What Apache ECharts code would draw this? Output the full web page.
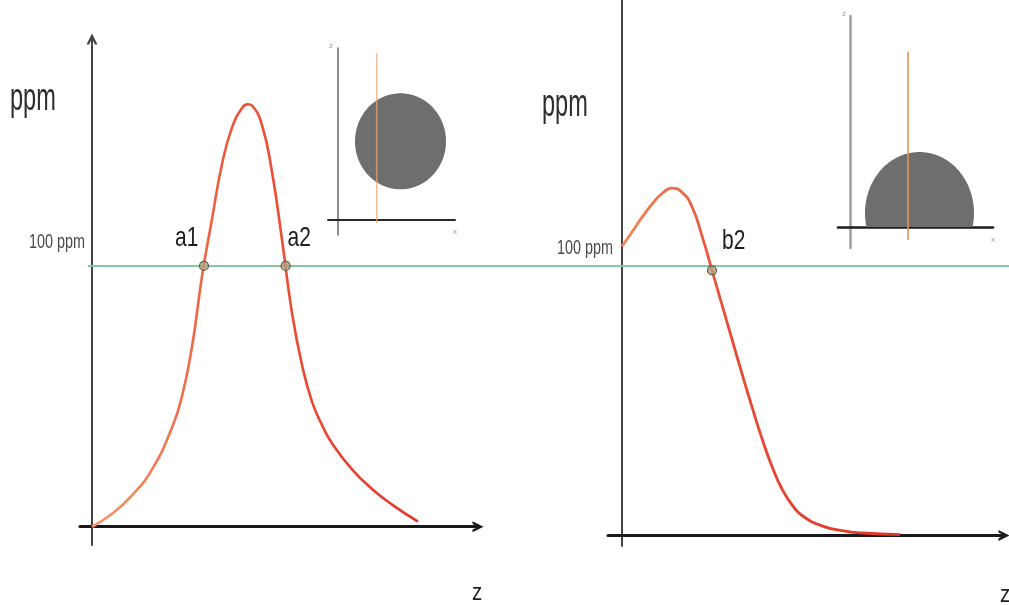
<!DOCTYPE html>
<html>
<head>
<meta charset="utf-8">
<script src="https://cdn.jsdelivr.net/npm/echarts@6/dist/echarts.min.js"></script>
<style>
  html, body { margin: 0; padding: 0; background: #fff; }
  #chart { width: 1009px; height: 605px; }
</style>
</head>
<body>
<div id="chart"></div>
<script>
// Concentration profile along z for a spherical drop (left) and a sessile drop (right)
const sphereZ   = [0, 0.5, 1.0, 1.5, 2.0, 2.25, 2.5, 2.75, 3.0, 3.25, 3.5, 3.75, 3.9, 4.0, 4.25, 4.5, 4.75, 5.0, 5.25, 5.5, 5.75, 6.0, 6.5, 7.0, 7.5, 8.15];
const spherePpm = [0, 5, 12, 22, 38, 50, 69, 96, 118, 139, 153, 160.5, 162, 161.5, 154, 136, 110, 82, 62, 48, 39, 32, 22, 14.5, 8.5, 2];

const sessileZ   = [0, 0.25, 0.5, 0.75, 1.0, 1.25, 1.5, 1.75, 2.0, 2.25, 2.5, 2.75, 3.0, 3.25, 3.5, 3.75, 4.0, 4.25, 4.5, 5.0, 5.5, 6.0, 6.95];
const sessilePpm = [109, 114.5, 120, 125, 129, 131, 129.5, 124, 113, 100, 87, 74, 61, 48.5, 36.5, 26, 17.5, 11.5, 7.5, 3.6, 1.8, 0.9, 0.3];

// 100 ppm threshold and the points where each profile crosses it
const thresholdPpm = 100;
const thresholdSpan = [0, 1];
const sphereCrossings  = [[2.8, 100], [4.84, 100]];
const sphereLabels     = ['a1', 'a2'];
const sessileCrossings = [[2.25, 100]];
const sessileLabels    = ['b2'];

// Drop shapes in the small sketches: [centre x, centre z, radius x, radius z]
const sphereDrop  = [62.5, 78.7, 45.5, 48];
const sessileDrop = [69.5, 14, 54.5, 61];
// Vertical beam line through each sketch: [x, z] end points
const sphereBeam  = [[38.7, -3], [38.7, 166.7]];
const sessileBeam = [[58, -13], [58, 175]];

const chart = echarts.init(document.getElementById('chart'), null, { renderer: 'canvas' });

const FONT = '"Liberation Sans", Arial, sans-serif';
const chevron = 'path://M0,10 L5,0 L10,10 L7.6,10 L5,4.6 L2.4,10 Z';

function mainX(grid, min, max) {
  return {
    type: 'value', gridIndex: grid, min: min, max: max,
    axisLine: { show: true, symbol: ['none', chevron], symbolSize: [18, 11],
      lineStyle: { color: '#1a1a1a', width: 3 } },
    axisTick: { show: false }, axisLabel: { show: false }, splitLine: { show: false }
  };
}
function mainY(grid, min, max, arrow) {
  return {
    type: 'value', gridIndex: grid, min: min, max: max,
    axisLine: { show: true, symbol: ['none', arrow ? chevron : 'none'], symbolSize: [17, 11],
      lineStyle: { color: '#444', width: 2 } },
    axisTick: { show: false }, axisLabel: { show: false }, splitLine: { show: false }
  };
}
function plainAxis(grid, min, max, color, width) {
  return {
    type: 'value', gridIndex: grid, min: min, max: max,
    axisLine: { show: color !== null, lineStyle: { color: color || '#000', width: width || 1 } },
    axisTick: { show: false }, axisLabel: { show: false }, splitLine: { show: false }
  };
}

// Outline of an ellipse, flattened where it meets the substrate (z = floor when given)
function dropItem(floor) {
  return function (params, api) {
    const cx = api.value(0), cy = api.value(1), rx = api.value(2), ry = api.value(3);
    const pts = [];
    for (let i = 0; i <= 160; i++) {
      const t = (i / 160) * Math.PI * 2;
      let y = cy + ry * Math.sin(t);
      if (floor !== null && y < floor) y = floor;
      pts.push(api.coord([cx + rx * Math.cos(t), y]));
    }
    return { type: 'polygon', shape: { points: pts }, style: { fill: '#6e6e6e' } };
  };
}

// Crossing marker with its name written beside it
function crossingItem(labels, offsets) {
  return function (params, api) {
    const p = api.coord([api.value(0), api.value(1)]);
    const off = offsets[params.dataIndex];
    return {
      type: 'group',
      children: [
        { type: 'circle', shape: { cx: p[0], cy: p[1], r: 4.5 },
          style: { fill: 'rgba(176,160,128,0.8)', stroke: '#6a5a44', lineWidth: 1.2 } },
        { type: 'text', x: p[0] + off[0], y: p[1] + off[1], scaleX: 0.75,
          style: { text: labels[params.dataIndex], font: '28px ' + FONT, fill: '#1e1e1e',
                   align: 'left', verticalAlign: 'middle' } }
      ]
    };
  };
}

function label(text, x, y, size, sx, fill) {
  return { type: 'text', x: x, y: y, scaleX: sx, z: 20,
    style: { text: text, font: size + 'px ' + FONT, fill: fill, align: 'left', verticalAlign: 'middle' } };
}

const curveLeft = new echarts.graphic.LinearGradient(0, 0, 1, 0, [
  { offset: 0, color: '#f59a6a' }, { offset: 0.45, color: '#ee5236' }, { offset: 1, color: '#e2382a' }
]);
const curveRight = new echarts.graphic.LinearGradient(0, 0, 1, 0, [
  { offset: 0, color: '#f2875a' }, { offset: 0.4, color: '#ea4a34' }, { offset: 1, color: '#dd3428' }
]);

chart.setOption({
  backgroundColor: '#ffffff',
  animation: false,
  grid: [
    { left: 80, top: 39, width: 398, height: 506 },   // spherical drop profile
    { left: 608, top: -8, width: 396, height: 554 },  // sessile drop profile
    { left: 88, top: 39, width: 921, height: 506 },   // threshold line
    { left: 328, top: 48, width: 127, height: 187 },  // sphere sketch
    { left: 838, top: 16, width: 155, height: 232 }   // sessile sketch
  ],
  xAxis: [
    mainX(0, -0.3, 9.65),
    mainX(1, -0.35, 9.55),
    plainAxis(2, thresholdSpan[0], thresholdSpan[1], null),
    plainAxis(3, -10, 117, '#2a2a2a', 2),
    plainAxis(4, -12, 143, '#1e1e1e', 2.5)
  ],
  yAxis: [
    mainY(0, -7, 187, true),
    mainY(1, -4, 202, false),
    plainAxis(2, -7, 187, null),
    plainAxis(3, -15, 172, '#666', 1.5),
    plainAxis(4, -21, 211, '#a0a0a0', 2.5)
  ],
  series: [
    { type: 'line', xAxisIndex: 2, yAxisIndex: 2, z: 1, silent: true, showSymbol: false,
      data: thresholdSpan.map(function (x) { return [x, thresholdPpm]; }),
      lineStyle: { color: '#86c8a6', width: 2 } },
    { type: 'line', xAxisIndex: 0, yAxisIndex: 0, z: 3, smooth: 0.5,
      showSymbol: false, clip: false,
      data: sphereZ.map(function (z, i) { return [z, spherePpm[i]]; }),
      lineStyle: { color: curveLeft, width: 2.6 } },
    { type: 'line', xAxisIndex: 1, yAxisIndex: 1, z: 3, smooth: 0.5,
      showSymbol: false, clip: false,
      data: sessileZ.map(function (z, i) { return [z, sessilePpm[i]]; }),
      lineStyle: { color: curveRight, width: 2.8 } },
    { type: 'custom', xAxisIndex: 0, yAxisIndex: 0, z: 5, data: sphereCrossings,
      encode: { x: 0, y: 1 }, renderItem: crossingItem(sphereLabels, [[-29, -28], [2, -28]]) },
    { type: 'custom', xAxisIndex: 1, yAxisIndex: 1, z: 5, data: sessileCrossings,
      encode: { x: 0, y: 1 }, renderItem: crossingItem(sessileLabels, [[10, -29]]) },
    { type: 'custom', xAxisIndex: 3, yAxisIndex: 3, z: 2, data: [sphereDrop],
      encode: { x: 0, y: 1 }, renderItem: dropItem(null) },
    { type: 'custom', xAxisIndex: 4, yAxisIndex: 4, z: 2, data: [sessileDrop],
      encode: { x: 0, y: 1 }, renderItem: dropItem(0) },
    { type: 'line', xAxisIndex: 3, yAxisIndex: 3, z: 4, showSymbol: false, data: sphereBeam,
      lineStyle: { color: 'rgba(236,165,115,0.75)', width: 1.5 } },
    { type: 'line', xAxisIndex: 4, yAxisIndex: 4, z: 4, showSymbol: false, data: sessileBeam,
      lineStyle: { color: 'rgba(232,145,85,0.9)', width: 1.8 } }
  ],
  graphic: [
    label('ppm', 10, 100, 38, 0.62, '#2e2e2e'),
    label('ppm', 542, 105.5, 38, 0.62, '#2e2e2e'),
    label('100 ppm', 29, 242.5, 20, 0.72, '#4a4a4a'),
    label('100 ppm', 557, 248, 20, 0.72, '#4a4a4a'),
    label('z', 472, 593, 24, 0.85, '#1e1e1e'),
    label('z', 1000, 595, 24, 0.85, '#1e1e1e'),
    label('z', 329, 46, 8, 1, '#9a9a9a'),
    label('x', 453, 232, 8, 1, '#9a9a9a'),
    label('z', 842, 14, 8, 1, '#9a9a9a'),
    label('x', 991, 240, 8, 1, '#9a9a9a')
  ]
});
</script>
</body>
</html>
